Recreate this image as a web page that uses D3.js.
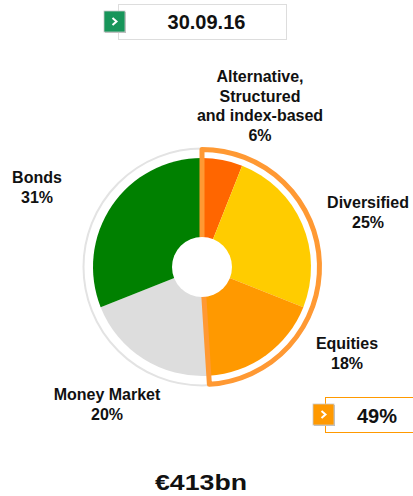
<!DOCTYPE html>
<meta charset="utf-8">
<style>
body { margin: 0; background: #fff; }
svg text {
  font-family: "Liberation Sans", Arial, sans-serif;
  font-weight: bold;
  fill: #111;
}
.lbl { font-size: 16px; }
.big { font-size: 20px; }
.total { font-size: 22px; }
</style>
<svg width="413" height="496"></svg>
<script src="https://cdnjs.cloudflare.com/ajax/libs/d3/7.8.5/d3.min.js"></script>
<script>

// data, clockwise from the top
var categories = ["Alternative, Structured and index-based", "Diversified", "Equities", "Money Market", "Bonds"];
var labelLines = [["Alternative,", "Structured", "and index-based"], ["Diversified"], ["Equities"], ["Money Market"], ["Bonds"]];
var shares = [6, 25, 18, 20, 31];
var highlighted = ["Alternative, Structured and index-based", "Diversified", "Equities"];
var dateLabel = "30.09.16";
var totalLabel = "€413bn";

var colors = ["#ff6600", "#ffcc00", "#ff9900", "#dddddd", "#008000"];

// label anchors (centre of first line)
var labelPos = [[260, 76.5], [368, 202.5], [347, 343.5], [107, 394.5], [37, 177.5]];

var svg = d3.select("svg"),
    cx = 202, cy = 267,
    rOuter = 109, rHole = 30;

var pie = d3.pie().sort(null).value(function(d) { return d; });
var arcs = pie(shares);

var arc = d3.arc().innerRadius(0).outerRadius(rOuter);

var g = svg.append("g")
    .attr("transform", "translate(" + cx + "," + cy + ")");

// thin grey ring round the whole pie
g.append("circle")
    .attr("r", 118.5)
    .attr("fill", "none")
    .attr("stroke", "#e3e3e3")
    .attr("stroke-width", 2);

g.selectAll(".slice")
    .data(arcs)
  .enter().append("path")
    .attr("class", "slice")
    .attr("d", arc)
    .attr("fill", function(d, i) { return colors[i]; });

// outline round the highlighted group
var hiArcs = arcs.filter(function(d, i) { return highlighted.indexOf(categories[i]) >= 0; });
var hiShare = d3.sum(hiArcs, function(d) { return d.data; });
g.append("path")
    .attr("d", d3.arc().innerRadius(0).outerRadius(117.5)({
      startAngle: d3.min(hiArcs, function(d) { return d.startAngle; }),
      endAngle: d3.max(hiArcs, function(d) { return d.endAngle; })
    }))
    .attr("fill", "none")
    .attr("stroke", "#ff9933")
    .attr("stroke-width", 5)
    .attr("stroke-linejoin", "round");

g.append("circle")
    .attr("r", rHole)
    .attr("fill", "#fff");

// category labels
svg.selectAll(".lbl")
    .data(arcs)
  .enter().append("text")
    .attr("class", "lbl")
    .attr("text-anchor", "middle")
    .attr("x", function(d, i) { return labelPos[i][0]; })
    .attr("y", function(d, i) { return labelPos[i][1]; })
    .each(function(d, i) {
      var t = d3.select(this);
      var lines = labelLines[i].concat([d.data + "%"]);
      lines.forEach(function(s, j) {
        t.append("tspan")
          .attr("x", labelPos[i][0])
          .attr("dy", j === 0 ? "0.35em" : 19.5)
          .text(s);
      });
    });

function chevron(x, y, fill) {
  var b = svg.append("g").attr("transform", "translate(" + x + "," + y + ")");
  b.append("rect")
      .attr("x", 1).attr("y", 1)
      .attr("width", 21).attr("height", 21)
      .attr("fill", "#bbb");
  b.append("rect")
      .attr("width", 21).attr("height", 21)
      .attr("fill", fill)
      .attr("stroke", "#c8c8c8")
      .attr("stroke-width", 0.8);
  b.append("path")
      .attr("d", "M8.5,7L12.5,10.5L8.5,14")
      .attr("fill", "none")
      .attr("stroke", "#fff")
      .attr("stroke-width", 2);
}

// date box
svg.append("rect")
    .attr("x", 118.5).attr("y", 4.5)
    .attr("width", 168).attr("height", 35)
    .attr("fill", "#fff")
    .attr("stroke", "#dddddd");
chevron(104, 11, "#17955a");
svg.append("text")
    .attr("class", "big")
    .attr("x", 206.5).attr("y", 29)
    .attr("text-anchor", "middle")
    .text(dateLabel);

// highlighted share box
svg.append("rect")
    .attr("x", 325.5).attr("y", 397.5)
    .attr("width", 100).attr("height", 35)
    .attr("fill", "#fff")
    .attr("stroke", "#ff9900");
chevron(313, 404, "#ff9900");
svg.append("text")
    .attr("class", "big")
    .attr("x", 377).attr("y", 423)
    .attr("text-anchor", "middle")
    .text(hiShare + "%");

svg.append("text")
    .attr("class", "total")
    .attr("x", 155).attr("y", 490)
    .attr("textLength", 92)
    .attr("lengthAdjust", "spacingAndGlyphs")
    .text(totalLabel);

</script>
